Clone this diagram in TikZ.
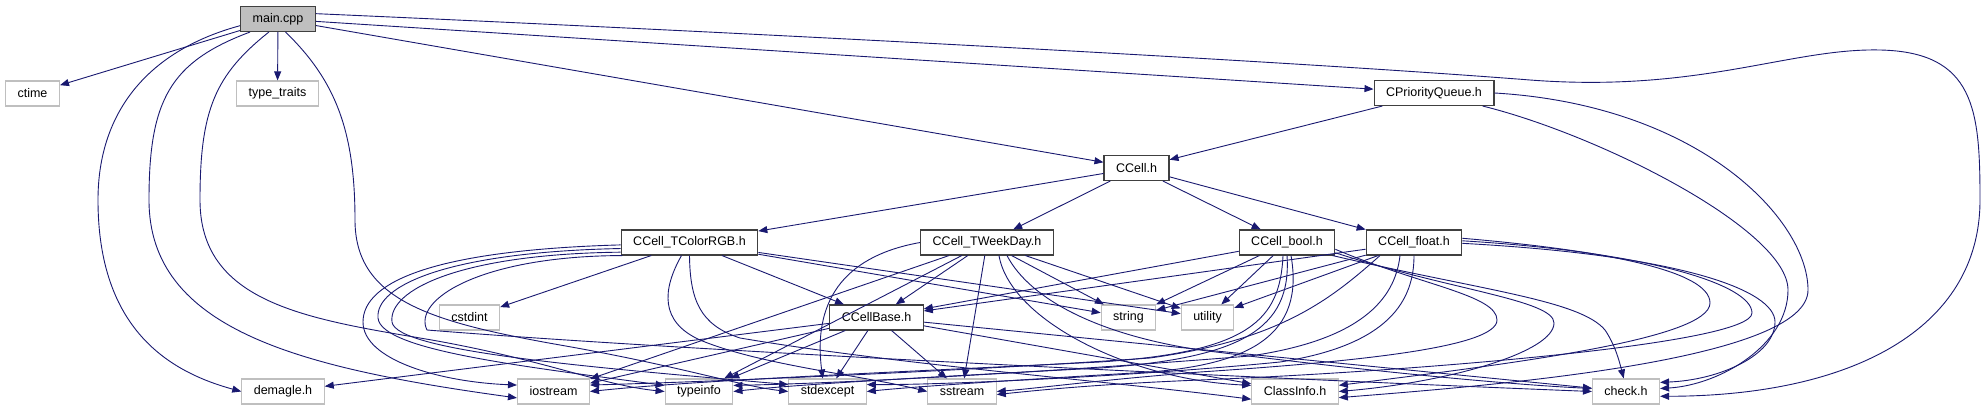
\documentclass[tikz,border=0pt]{standalone}
\usepackage{fontspec}
\setmainfont{Liberation Sans}
\usetikzlibrary{arrows.meta}
\definecolor{Edge}{HTML}{191970}
\definecolor{Leaf}{HTML}{BFBFBF}
\definecolor{Root}{HTML}{BFBFBF}
\definecolor{Frame}{HTML}{404040}

\begin{document}
\begin{tikzpicture}[
  x=1pt,y=-1pt,
  file/.style={draw=Frame,fill=white,line width=1.1pt,minimum height=25pt,inner xsep=12pt,inner ysep=0pt,font=\fontsize{12.5}{14}\selectfont},
  sys/.style={file,draw=Leaf},
  root/.style={file,fill=Root},
  inc/.style={-{Triangle[length=9pt,width=7pt]},line width=.9pt,draw=Edge}
]
\useasboundingbox (0,0) rectangle (1986,411);

% files
\node[root] (main) at (278,19) {main.cpp};
\node[sys] (ctime) at (32.5,93.5) {ctime};
\node[sys] (traits) at (277.5,93.5) {type\_traits};
\node[file] (pqueue) at (1434,93) {CPriorityQueue.h};
\node[file] (cell) at (1136.5,168) {CCell.h};
\node[file] (rgb) at (689.5,242.5) {CCell\_TColorRGB.h};
\node[file] (wday) at (987,242.5) {CCell\_TWeekDay.h};
\node[file] (cbool) at (1287,242.5) {CCell\_bool.h};
\node[file] (cfloat) at (1414,242.5) {CCell\_float.h};
\node[sys] (cstdint) at (469.5,317.5) {cstdint};
\node[file] (base) at (876.5,317.5) {CCellBase.h};
\node[sys] (str) at (1128.5,317.5) {string};
\node[sys] (util) at (1207.5,317.5) {utility};
\node[sys] (demagle) at (283,391.5) {demagle.h};
\node[sys] (iostr) at (553.5,391.5) {iostream};
\node[sys] (tinfo) at (699,391.5) {typeinfo};
\node[sys] (stdexc) at (827.5,391.5) {stdexcept};
\node[sys] (sstr) at (962,391.5) {sstream};
\node[sys] (clsinfo) at (1295,391.5) {ClassInfo.h};
\node[sys] (check) at (1626,391.5) {check.h};

% main.cpp
\draw[inc] (main) -- (ctime);
\draw[inc] (main) -- (traits);
\draw[inc] (main) -- (pqueue);
\draw[inc] (main) -- (cell);
\draw[inc] (main.190) .. controls (150,50) and (98,110) .. (98,200) .. controls (98,330) and (170,372) .. (demagle.west);
\draw[inc] (main.205) .. controls (170,62) and (149,100) .. (149,200) .. controls (149,330) and (300,368) .. (iostr.190);
\draw[inc] (main.235) .. controls (215,75) and (200,110) .. (200,200) .. controls (200,300) and (300,318) .. (420,338) .. controls (540,358) and (600,385) .. (tinfo.west);
\draw[inc] (main.300) .. controls (335,80) and (355,130) .. (355,220) .. controls (355,300) and (430,322) .. (560,345) .. controls (680,366) and (740,386) .. (stdexc.west);
\draw[inc] (main.8) .. controls (800,35) and (1300,62) .. (1530,80) .. controls (1700,93) and (1790,48) .. (1880,50) .. controls (1975,52) and (1980,110) .. (1980,200) .. controls (1980,330) and (1850,396) .. (check.-8);

% CPriorityQueue.h
\draw[inc] (pqueue) -- (cell);
\draw[inc] (pqueue.-15) .. controls (1600,135) and (1788,230) .. (1788,290) .. controls (1788,345) and (1720,385) .. (check.5);
\draw[inc] (pqueue.east) .. controls (1700,105) and (1808,220) .. (1808,290) .. controls (1808,360) and (1500,385) .. (clsinfo.-8);

% CCell.h
\draw[inc] (cell) -- (rgb);
\draw[inc] (cell) -- (wday);
\draw[inc] (cell) -- (cbool);
\draw[inc] (cell) -- (cfloat);

% CCell_TColorRGB.h
\draw[inc] (rgb) -- (cstdint);
\draw[inc] (rgb) -- (base);
\draw[inc] (rgb) -- (str);
\draw[inc] (rgb) -- (util);
\draw[inc] (rgb.182) .. controls (440,250) and (363,280) .. (363,322) .. controls (363,360) and (440,382) .. (iostr.170);
\draw[inc] (rgb.185) .. controls (450,252) and (375,285) .. (378,318) .. controls (381,350) and (520,366) .. (tinfo.170);
\draw[inc] (rgb.188) .. controls (460,254) and (388,290) .. (392,322) .. controls (396,352) and (600,368) .. (stdexc.170);
\draw[inc] (rgb.191) .. controls (480,256) and (412,300) .. (427,330) .. controls (700,352) and (1300,380) .. (check.west);
\draw[inc] ([xshift=-8pt]rgb.south) .. controls (662,290) and (660,322) .. (700,340) .. controls (760,365) and (860,375) .. (sstr.west);
\draw[inc] (rgb.south) .. controls (690,300) and (700,325) .. (740,338) .. controls (900,365) and (1100,380) .. (clsinfo.190);

% CCell_TWeekDay.h
\draw[inc] (wday) -- (base);
\draw[inc] (wday) -- (str);
\draw[inc] (wday) -- (util);
\draw[inc] (wday) -- (sstr);
\draw[inc] (wday) -- (iostr);
\draw[inc] (wday) -- (tinfo);
\draw[inc] (wday.west) .. controls (850,255) and (812,295) .. (stdexc.110);
\draw[inc] ([xshift=12pt]wday.south) .. controls (1010,320) and (1130,380) .. (clsinfo.172);
\draw[inc] ([xshift=20pt]wday.south) .. controls (1030,300) and (1100,335) .. (1200,350) .. controls (1400,375) and (1520,385) .. (check.175);

% CCell_bool.h
\draw[inc] (cbool) -- (base);
\draw[inc] (cbool) -- (str);
\draw[inc] (cbool) -- (util);
\draw[inc] ([xshift=-4pt]cbool.south) .. controls (1280,320) and (1250,352) .. (1100,362) .. controls (900,372) and (700,380) .. (iostr.east);
\draw[inc] (cbool.south) .. controls (1292,330) and (1240,358) .. (1100,368) .. controls (950,376) and (800,384) .. (tinfo.east);
\draw[inc] ([xshift=4pt]cbool.south) .. controls (1305,335) and (1250,364) .. (1150,372) .. controls (1050,378) and (920,386) .. (stdexc.east);
\draw[inc] (cbool.-8) .. controls (1420,285) and (1497,295) .. (1497,320) .. controls (1497,348) and (1350,362) .. (1200,372) .. controls (1100,380) and (1040,388) .. (sstr.east);
\draw[inc] (cbool.-12) .. controls (1450,290) and (1554,300) .. (1554,323) .. controls (1554,352) and (1450,382) .. (clsinfo.east);
\draw[inc] (cbool.-16) .. controls (1480,290) and (1580,300) .. (1605,330) .. controls (1615,345) and (1619,360) .. (check.100);

% CCell_float.h
\draw[inc] (cfloat) -- (base);
\draw[inc] (cfloat) -- (str);
\draw[inc] (cfloat) -- (util);
\draw[inc] ([xshift=-34pt]cfloat.south) .. controls (1330,300) and (1280,340) .. (1150,358) .. controls (950,372) and (700,382) .. (iostr.10);
\draw[inc] ([xshift=-14pt]cfloat.south) .. controls (1395,300) and (1360,340) .. (1250,356) .. controls (1050,372) and (850,383) .. (tinfo.10);
\draw[inc] (cfloat.south) .. controls (1414,300) and (1390,345) .. (1280,362) .. controls (1150,375) and (950,385) .. (stdexc.10);
\draw[inc] (cfloat.5) .. controls (1600,250) and (1710,270) .. (1710,303) .. controls (1710,340) and (1500,365) .. (clsinfo.8);
\draw[inc] (cfloat.2) .. controls (1650,252) and (1752,285) .. (1752,313) .. controls (1752,345) and (1400,372) .. (1200,380) .. controls (1100,384) and (1040,390) .. (sstr.-5);
\draw[inc] (cfloat.-1) .. controls (1680,255) and (1775,290) .. (1775,322) .. controls (1775,355) and (1720,380) .. (check.15);

% CCellBase.h
\draw[inc] (base) -- (demagle);
\draw[inc] (base) -- (iostr);
\draw[inc] (base) -- (tinfo);
\draw[inc] (base) -- (stdexc);
\draw[inc] (base) -- (sstr);
\draw[inc] (base) -- (clsinfo);
\draw[inc] (base) -- (check);
\end{tikzpicture}
\end{document}
